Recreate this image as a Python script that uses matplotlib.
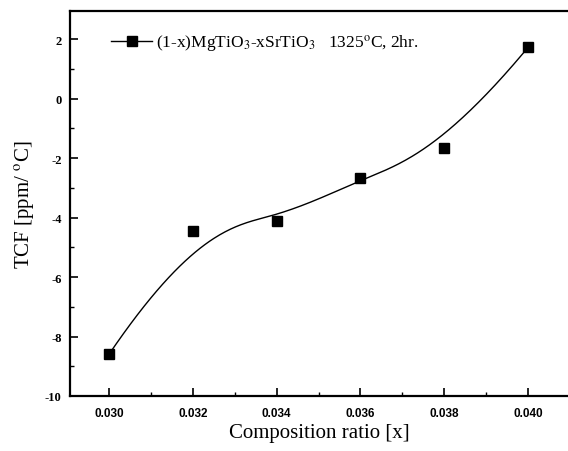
"""
    TCF vs composition ratio, (1-x)MgTiO3-xSrTiO3
"""
import numpy as np
import matplotlib
matplotlib.use('Agg')
import matplotlib.pyplot as plt
from matplotlib.ticker import MultipleLocator

# datos
ratio = [0.030, 0.032, 0.034, 0.036, 0.038, 0.040]
tcf = [-8.6, -4.45, -4.1, -2.68, -1.66, 1.73]
xticks = [0.030, 0.032, 0.034, 0.036, 0.038, 0.040]
xtick_labels = ['0.030', '0.032', '0.034', '0.036', '0.038', '0.040']
yticks = [-10, -8, -6, -4, -2, 0, 2]
label = '(1-x)MgTiO$_3$-xSrTiO$_3$   1325$^{\\rm o}$C, 2hr.'


def bspline(px, py, k=3, n=300):
    """B-spline sujeta usando los puntos como puntos de control"""
    m = len(px)
    t = np.concatenate([np.zeros(k), np.linspace(0, 1, m - k + 1), np.ones(k)])
    u = np.linspace(0, 1, n)
    u[-1] = 1 - 1e-12

    def base(i, p, u):
        if p == 0:
            return np.where((t[i] <= u) & (u < t[i + 1]), 1.0, 0.0)
        a = 0.0
        b = 0.0
        if t[i + p] != t[i]:
            a = (u - t[i]) / (t[i + p] - t[i]) * base(i, p - 1, u)
        if t[i + p + 1] != t[i + 1]:
            b = (t[i + p + 1] - u) / (t[i + p + 1] - t[i + 1]) * base(i + 1, p - 1, u)
        return a + b

    B = np.array([base(i, k, u) for i in range(m)])
    return B.T @ np.array(px), B.T @ np.array(py)


plt.rcParams['font.family'] = 'Liberation Serif'
plt.rcParams['mathtext.fontset'] = 'stix'
plt.rcParams['axes.unicode_minus'] = False
fig = plt.figure(figsize=(5.68, 4.52), dpi=100)
ax = fig.add_axes([0.1232, 0.1217, 0.8768, 0.8518])

cx, cy = bspline(ratio, tcf)
ax.plot(cx, cy, color='black', linewidth=1.0)
ax.plot(ratio, tcf, linestyle='none', marker='s', markersize=7.5, color='black')
# entrada de leyenda
ax.plot([], [], color='black', linewidth=1.0, marker='s', markersize=6.5, label=label)

ax.set_xlim(0.02907, 0.04095)
ax.set_ylim(-10, 2.95)
ax.set_xticks(xticks)
ax.set_xticklabels(xtick_labels)
ax.set_yticks(yticks)
ax.xaxis.set_minor_locator(MultipleLocator(0.001))
ax.yaxis.set_minor_locator(MultipleLocator(1))
ax.tick_params(which='major', direction='in', length=6, width=1.2, top=False, right=False)
ax.tick_params(which='minor', direction='in', length=3, width=1.0, top=False, right=False)
for lbl in ax.get_xticklabels():
    lbl.set_family('Liberation Sans')
    lbl.set_fontweight('bold')
    lbl.set_fontsize(8.5)
for lbl in ax.get_yticklabels():
    lbl.set_family('Liberation Serif')
    lbl.set_fontweight('bold')
    lbl.set_fontsize(9)
ax.tick_params(axis='x', pad=8)
ax.tick_params(axis='y', pad=6)

for s in ['left', 'bottom', 'top']:
    ax.spines[s].set_linewidth(1.6)
ax.spines['right'].set_visible(False)

ax.set_xlabel('Composition ratio [x]', fontsize=15, labelpad=3)
ax.set_ylabel('TCF [ppm/ $^{\\rm o}$C]', fontsize=15, labelpad=6)

ax.legend(loc='upper left', frameon=False, fontsize=12.5, handlelength=2.4,
          handletextpad=0.2, bbox_to_anchor=(0.068, 0.962), borderaxespad=0)

plt.savefig('out.png', dpi=100)
